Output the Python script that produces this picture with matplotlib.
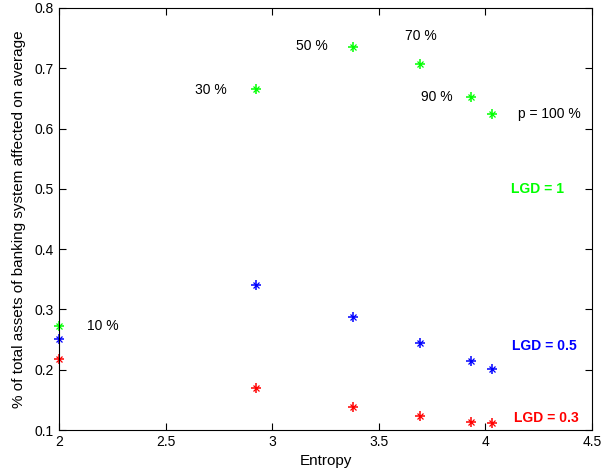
import matplotlib
matplotlib.use("Agg")
import matplotlib.pyplot as plt

plt.rcParams['font.family'] = ['Liberation Sans', 'DejaVu Sans']

entropy = [2.0, 2.923, 3.380, 3.695, 3.932, 4.032]
lgd1 = [0.273, 0.665, 0.735, 0.707, 0.653, 0.624]
lgd05 = [0.2515, 0.341, 0.2875, 0.245, 0.2145, 0.201]
lgd03 = [0.217, 0.169, 0.139, 0.123, 0.114, 0.112]
p_labels = ["10 %", "30 %", "50 %", "70 %", "90 %", "p = 100 %"]

fig = plt.figure(figsize=(6.03, 4.75), dpi=100)
ax = fig.add_axes([0.0978, 0.0947, 0.884, 0.8885])

colors = ['#00ff00', '#0000ff', '#ff0000']
for ys, c in zip([lgd1, lgd05, lgd03], colors):
    ax.plot(entropy, ys, linestyle='none', marker='+', markersize=7,
            markeredgewidth=1.1, color=c, clip_on=False)
    ax.plot(entropy, ys, linestyle='none', marker='x', markersize=4.5,
            markeredgewidth=0.9, color=c, clip_on=False)

# p labels (positioned in data coords near green points)
label_pos = [(2.13, 0.273), (2.64, 0.664), (3.11, 0.737), (3.625, 0.753),
             (3.70, 0.652), (4.155, 0.624)]
for (x, y), t in zip(label_pos, p_labels):
    ax.text(x, y, t, fontsize=10, ha='left', va='center')

ax.text(4.12, 0.5, "LGD = 1", color='#00ff00', fontsize=10, fontweight='bold', va='center')
ax.text(4.125, 0.2395, "LGD = 0.5", color='#0000ff', fontsize=10, fontweight='bold', va='center')
ax.text(4.135, 0.1195, "LGD = 0.3", color='#ff0000', fontsize=10, fontweight='bold', va='center')

ax.set_xlim(2, 4.5)
ax.set_ylim(0.1, 0.8)
ax.set_xticks([2, 2.5, 3, 3.5, 4, 4.5])
ax.set_xticklabels(['2', '2.5', '3', '3.5', '4', '4.5'])
ax.set_yticks([0.1, 0.2, 0.3, 0.4, 0.5, 0.6, 0.7, 0.8])
ax.set_yticklabels(['0.1', '0.2', '0.3', '0.4', '0.5', '0.6', '0.7', '0.8'])
ax.tick_params(direction='in', top=True, right=True, labelsize=10, length=5, width=0.8)
for s in ax.spines.values():
    s.set_linewidth(0.8)

ax.set_xlabel("Entropy", fontsize=11, labelpad=4)
ax.set_ylabel("% of total assets of banking system affected on average", fontsize=11, labelpad=6)

fig.savefig("out.png", dpi=100)
